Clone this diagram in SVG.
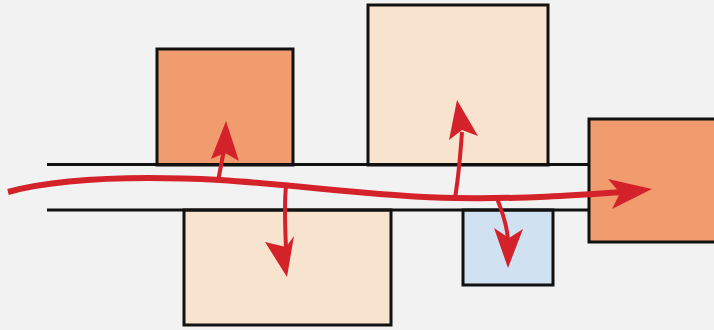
<svg xmlns="http://www.w3.org/2000/svg" width="714" height="330" viewBox="0 0 714 330">
<style>
.box{stroke:#111;stroke-width:3}
.orange{fill:#f19c6f}
.beige{fill:#f8e3cf}
.blue{fill:#d0e1f1}
.rail{stroke:#111;stroke-width:3;fill:none}
.flow{stroke:#d4222b;fill:none;stroke-linecap:butt}
.head{fill:#d4222b}
</style>
<rect width="714" height="330" fill="#f2f2f2"/>
<g id="box-top-left"><rect class="box orange" x="157" y="49" width="136" height="116"/></g>
<g id="box-top-mid"><rect class="box beige" x="368" y="5" width="180" height="160"/></g>
<g id="box-bottom-left"><rect class="box beige" x="184" y="210" width="207" height="115"/></g>
<g id="box-bottom-blue"><rect class="box blue" x="463" y="210" width="90" height="75"/></g>
<g id="box-right"><rect class="box orange" x="589" y="119" width="130" height="123"/></g>
<g id="rails">
<line class="rail" x1="47" y1="164.5" x2="589" y2="164.5"/>
<line class="rail" x1="47" y1="210" x2="589" y2="210"/>
</g>
<g id="connectors">
<path class="flow" stroke-width="6" d="M8,192 C60,178 140,176 220,180 C300,185 380,197 455,198 C530,199 580,195 622,192"/>
<polygon class="head" points="652,189 608,179 620,193 612,209"/>
<path class="flow" stroke-width="4" d="M218,181 L224,150"/>
<polygon class="head" points="226,121 239,161 225,153 211,159"/>
<path class="flow" stroke-width="4" d="M286,186 C284,205 285,225 286,248"/>
<polygon class="head" points="287,277 265,242 286,247 294,236"/>
<path class="flow" stroke-width="4" d="M455,198 C458,180 460,160 462,132"/>
<polygon class="head" points="457,100 478,136 462,130 449,140"/>
<path class="flow" stroke-width="4" d="M497,198 C501,210 507,222 508,240"/>
<polygon class="head" points="508,268 494,228 509,238 523,229"/>
</g>
</svg>
